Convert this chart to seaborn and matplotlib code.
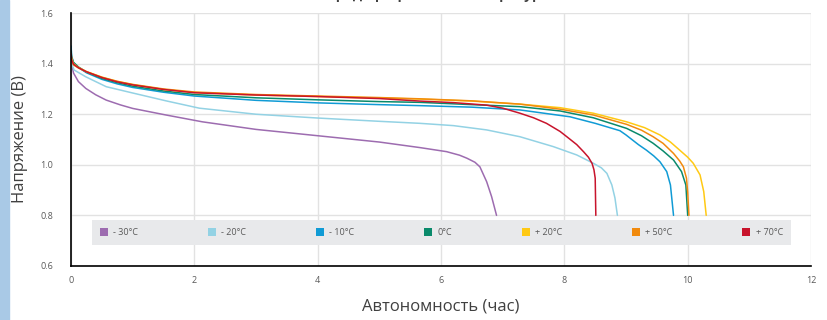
import pandas as pd
import matplotlib.pyplot as plt
import seaborn as sns
from matplotlib.patches import Patch, Rectangle

# discharge curves (hours, volts)
x_m30 = [0, 0.01, 0.04, 0.12, 0.24, 0.4, 0.57, 0.8, 1.0, 1.54, 2.13, 3, 4, 5, 5.66, 6.09,
         6.3, 6.42, 6.55, 6.63, 6.74, 6.82, 6.9]
y_m30 = [1.45, 1.40, 1.363, 1.329, 1.302, 1.277, 1.256, 1.237, 1.223, 1.197, 1.17, 1.14,
         1.115, 1.09, 1.068, 1.052, 1.038, 1.026, 1.01, 0.992, 0.933, 0.874, 0.80]

x_m20 = [0, 0.01, 0.05, 0.24, 0.57, 1.0, 1.54, 2.08, 3, 4, 5, 5.66, 6.2, 6.74, 7.28, 7.82,
         8.2, 8.47, 8.6, 8.69, 8.77, 8.82, 8.86]
y_m20 = [1.44, 1.40, 1.375, 1.348, 1.309, 1.284, 1.253, 1.224, 1.2, 1.185, 1.172, 1.164,
         1.155, 1.138, 1.111, 1.072, 1.039, 1.006, 0.988, 0.966, 0.92, 0.869, 0.80]

x_m10 = [0, 0.01, 0.04, 0.12, 0.25, 0.5, 0.75, 1.0, 1.5, 2, 3, 4, 5, 5.66, 6.5, 7.28, 8.09,
         8.5, 8.9, 9.0, 9.2, 9.33, 9.45, 9.55, 9.66, 9.72, 9.77]
y_m10 = [1.47, 1.43, 1.405, 1.385, 1.364, 1.338, 1.32, 1.306, 1.287, 1.272, 1.255, 1.245,
         1.238, 1.234, 1.228, 1.217, 1.19, 1.164, 1.135, 1.118, 1.08, 1.058, 1.035, 1.012,
         0.973, 0.92, 0.80]

x_0 = [0, 0.01, 0.04, 0.12, 0.25, 0.5, 0.75, 1, 1.5, 2, 3, 4, 5, 5.66, 6.5, 7.28, 7.93, 8.47,
       9.01, 9.25, 9.44, 9.6, 9.77, 9.9, 9.97, 10.0]
y_0 = [1.45, 1.425, 1.405, 1.387, 1.367, 1.342, 1.325, 1.311, 1.292, 1.278, 1.265, 1.257,
       1.25, 1.247, 1.238, 1.23, 1.213, 1.186, 1.144, 1.115, 1.085, 1.055, 1.019, 0.973,
       0.92, 0.80]

x_p20 = [0, 0.01, 0.04, 0.12, 0.25, 0.5, 0.75, 1, 1.5, 2, 3, 4, 5, 5.66, 6.5, 7.28, 7.93,
         8.47, 9.01, 9.3, 9.55, 9.72, 9.87, 10.0, 10.09, 10.2, 10.26, 10.3]
y_p20 = [1.44, 1.42, 1.40, 1.385, 1.369, 1.347, 1.33, 1.317, 1.298, 1.286, 1.276, 1.27,
         1.264, 1.26, 1.252, 1.24, 1.226, 1.204, 1.17, 1.147, 1.118, 1.09, 1.058, 1.03,
         1.006, 0.96, 0.894, 0.80]

x_p50 = [0, 0.01, 0.04, 0.12, 0.25, 0.5, 0.75, 1, 1.5, 2, 3, 4, 5, 5.66, 6.5, 7.28, 7.93,
         8.47, 9.01, 9.25, 9.44, 9.6, 9.77, 9.87, 9.93, 9.98, 10.0, 10.02]
y_p50 = [1.43, 1.41, 1.395, 1.383, 1.368, 1.346, 1.33, 1.318, 1.3, 1.288, 1.278, 1.272,
         1.266, 1.261, 1.253, 1.24, 1.22, 1.197, 1.16, 1.137, 1.111, 1.085, 1.045, 1.015,
         0.992, 0.947, 0.89, 0.80]

x_p70 = [0, 0.01, 0.04, 0.12, 0.25, 0.5, 0.75, 1, 1.5, 2, 3, 4, 5, 5.66, 6.2, 6.74, 7.0,
         7.28, 7.5, 7.71, 7.93, 8.04, 8.2, 8.31, 8.39, 8.45, 8.48, 8.5, 8.51]
y_p70 = [1.44, 1.415, 1.398, 1.384, 1.368, 1.345, 1.328, 1.316, 1.298, 1.285, 1.276, 1.27,
         1.262, 1.252, 1.246, 1.236, 1.224, 1.204, 1.186, 1.164, 1.132, 1.111, 1.08, 1.052,
         1.03, 1.005, 0.98, 0.947, 0.80]

labels = ["- 30°C", "- 20°C", "- 10°C", "0°C", "+ 20°C", "+ 50°C", "+ 70°C"]
colors = ["#9d6cb0", "#93d2e4", "#109bd5", "#0a8a6b", "#ffc914", "#f18a0d", "#c8142c"]
xs = [x_m30, x_m20, x_m10, x_0, x_p20, x_p50, x_p70]
ys = [y_m30, y_m20, y_m10, y_0, y_p20, y_p50, y_p70]

frames = []
for lab, x, y in zip(labels, xs, ys):
    frames.append(pd.DataFrame({"t": x, "v": y, "temp": lab}))
df = pd.concat(frames, ignore_index=True)

sns.set_style("white")
plt.rcParams["font.family"] = ["Open Sans", "DejaVu Sans"]

fig = plt.figure(figsize=(8.27, 3.2), dpi=100)
ax = fig.add_axes([0.0859, 0.169, 0.8948, 0.790])

# light blue strip on the left edge
fig.patches.append(Rectangle((0, 0), 0.011, 1, transform=fig.transFigure,
                             color="#a9c9e6", zorder=0))

sns.lineplot(data=df, x="t", y="v", hue="temp", palette=dict(zip(labels, colors)),
             sort=False, estimator=None, linewidth=1.1, ax=ax, legend=False)

ax.set_xlim(0, 12)
ax.set_ylim(0.6, 1.6)
ax.set_xticks(range(0, 13, 2))
ax.set_yticks([0.6, 0.8, 1.0, 1.2, 1.4, 1.6])
ax.set_yticklabels(["0.6", "0.8", "1.0", "1.2", "1.4", "1.6"])
ax.grid(True, color="#e2e2e2", linewidth=1)
ax.set_axisbelow(True)
for s in ["top", "right"]:
    ax.spines[s].set_visible(False)
for s in ["left", "bottom"]:
    ax.spines[s].set_color("black")
    ax.spines[s].set_linewidth(1.2)
ax.tick_params(axis="y", length=0, pad=13, labelsize=6.5, labelcolor="#595959")
ax.tick_params(axis="x", length=0, pad=7, labelsize=6.5, labelcolor="#595959")

ax.set_xlabel("Автономность (час)", fontsize=12, color="#404040", labelpad=10)
ax.set_ylabel("Напряжение (В)", fontsize=12, color="#404040", labelpad=9)

handles = [Patch(facecolor=c, edgecolor="none") for c in colors]
leg = ax.legend(handles, labels, ncol=7, mode="expand", loc="center",
                bbox_to_anchor=(0.028, 0.067, 0.945, 0.131), frameon=True,
                fontsize=6.5, handlelength=0.9, handleheight=0.9,
                handletextpad=0.6, borderpad=0.9, borderaxespad=0)
leg.get_frame().set_facecolor("#e8e9eb")
leg.get_frame().set_edgecolor("none")
leg.get_frame().set_alpha(1)
leg.get_frame().set_boxstyle("square", pad=0)
for t in leg.get_texts():
    t.set_color("#595959")
leg.set_zorder(5)

# title sits mostly above the canvas, as in the reference
fig.text(0.52, 1.016, "Разряд при разной температуре", ha="center", va="center",
         fontsize=10, fontweight="bold", color="#404040")

fig.savefig("out.png", dpi=100)
